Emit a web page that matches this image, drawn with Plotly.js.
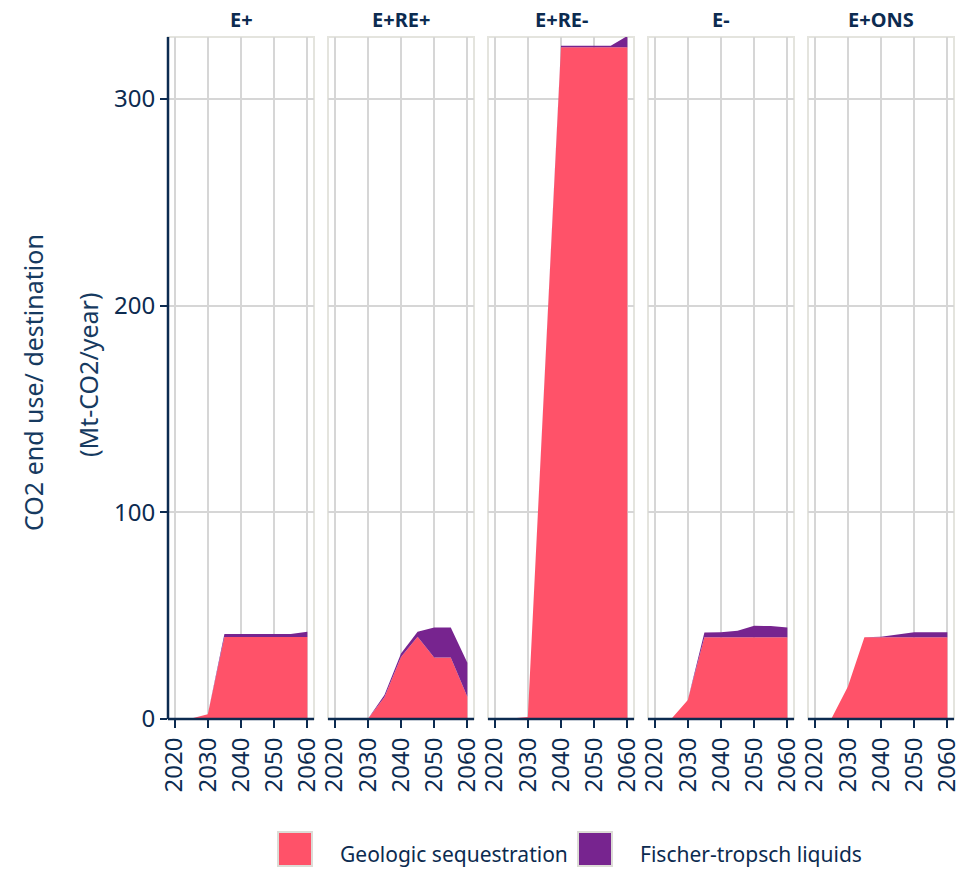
<!DOCTYPE html>
<html>
<head>
<meta charset="utf-8">
<script src="https://cdn.plot.ly/plotly-3.0.1.min.js"></script>
<style>html,body{margin:0;padding:0;background:#fff;}#chart{width:975px;height:880px;}</style>
</head>
<body>
<div id="chart"></div>
<script>
// ---- data ----
const years = [2020, 2025, 2030, 2035, 2040, 2045, 2050, 2055, 2060];
const scenarios = ['E+', 'E+RE+', 'E+RE-', 'E-', 'E+ONS'];
const seriesNames = ['Geologic sequestration', 'Fischer-tropsch liquids'];
const geologicEplus   = [0, 0.3, 2.3, 39.7, 39.7, 39.7, 39.7, 39.7, 39.7];
const fischerEplus    = [0, 0, 0, 1.4, 1.4, 1.4, 1.4, 1.4, 2.5];
const geologicEREplus = [0, 0, 0, 10.5, 30, 39.8, 29.7, 29.8, 10.8];
const fischerEREplus  = [0, 0, 0, 1.1, 1.7, 2.4, 14.6, 14.5, 16.4];
const geologicEREminus= [0, 0.3, 1, 162, 325, 325, 325, 325, 325];
const fischerEREminus = [0, 0, 0, 0, 0.8, 0.8, 0.8, 0.8, 5.5];
const geologicEminus  = [0, 0, 9.2, 39.5, 39.5, 39.5, 39.5, 39.5, 39.5];
const fischerEminus   = [0, 0, 0, 2.4, 2.5, 3.2, 5.6, 5.5, 4.8];
const geologicEONS    = [0, 0, 15.6, 39.5, 39.5, 39.5, 39.5, 39.5, 39.5];
const fischerEONS     = [0, 0, 0, 0, 0.3, 1.3, 2.5, 2.5, 2.5];
const xTicks = [2020, 2030, 2040, 2050, 2060];
const yTicks = [0, 100, 200, 300];

const geologic = [geologicEplus, geologicEREplus, geologicEREminus, geologicEminus, geologicEONS];
const fischer = [fischerEplus, fischerEREplus, fischerEREminus, fischerEminus, fischerEONS];

// ---- style ----
const W = 975, H = 880;
const colors = ['#FF5269', '#77248F'];
const navy = '#0c2b50';
const gridC = '#d6d6d6';
const borderC = '#e4e4de';
const font = 'Noto Sans, Open Sans, sans-serif';

const panelLeft0 = 168, panelStep = 160, panelW = 146;
const plotTop = 37, plotBottom = 719;
const yDom = [(H - plotBottom) / H, (H - plotTop) / H];

const traces = [];
const layout = {
  width: W, height: H,
  margin: {l: 0, r: 0, t: 0, b: 0},
  paper_bgcolor: '#ffffff', plot_bgcolor: '#ffffff',
  showlegend: false,
  font: {family: font, color: navy},
  shapes: [], annotations: []
};

scenarios.forEach((sc, i) => {
  const n = i === 0 ? '' : String(i + 1);
  const xa = 'x' + n, ya = 'y' + n;
  const left = panelLeft0 + i * panelStep;
  const xDom = [left / W, (left + panelW) / W];
  [geologic[i], fischer[i]].forEach((vals, k) => {
    traces.push({
      type: 'scatter', mode: 'lines', x: years, y: vals,
      xaxis: xa, yaxis: ya, stackgroup: 'g' + i,
      name: seriesNames[k], line: {width: 0, color: colors[k]},
      fillcolor: colors[k], hoverinfo: 'x+y+name'
    });
  });
  layout['xaxis' + n] = {
    domain: xDom, anchor: ya, range: [2018, 2062],
    tickmode: 'array', tickvals: xTicks, ticktext: xTicks.map(String),
    tickangle: -90, ticks: 'outside', ticklen: 8, tickwidth: 2, tickcolor: navy,
    tickfont: {family: font, size: 24, color: navy},
    showgrid: true, gridcolor: gridC, gridwidth: 2,
    showline: false, zeroline: false, fixedrange: true
  };
  layout['yaxis' + n] = {
    domain: yDom, anchor: xa, range: [0, 330],
    tickmode: 'array', tickvals: yTicks, ticktext: yTicks.map(String),
    showticklabels: i === 0, ticks: i === 0 ? 'outside' : '', ticklen: 7, tickwidth: 2, tickcolor: navy,
    tickfont: {family: font, size: 24, color: navy},
    showgrid: true, gridcolor: gridC, gridwidth: 2,
    showline: false, zeroline: false, fixedrange: true
  };
  // panel border
  layout.shapes.push({type: 'rect', xref: xa + ' domain', yref: ya + ' domain', x0: 0, x1: 1, y0: 0, y1: 1,
    line: {color: borderC, width: 2}, layer: 'below'});
  // bottom axis line
  layout.shapes.push({type: 'line', xref: xa + ' domain', yref: ya + ' domain', x0: 0, x1: 1, y0: 0, y1: 0,
    line: {color: navy, width: 2.5}, layer: 'above'});
  if (i === 0) {
    layout.shapes.push({type: 'line', xref: xa + ' domain', yref: ya + ' domain', x0: 0, x1: 0, y0: 0, y1: 1,
      line: {color: navy, width: 2.5}, layer: 'above'});
  }
  // panel title
  layout.annotations.push({text: '<b>' + sc + '</b>', xref: xa + ' domain', yref: 'paper', x: 0.5, y: (H - 20) / H,
    xanchor: 'center', yanchor: 'middle', showarrow: false, font: {family: font, size: 20, color: navy}});
});

// y title (two lines)
layout.annotations.push({text: 'CO2 end use/ destination', xref: 'paper', yref: 'paper', x: 33 / W, y: (H - 383) / H,
  textangle: -90, xanchor: 'center', yanchor: 'middle', showarrow: false, font: {family: font, size: 25, color: '#163a60'}});
layout.annotations.push({text: '(Mt-CO2/year)', xref: 'paper', yref: 'paper', x: 88 / W, y: (H - 375) / H,
  textangle: -90, xanchor: 'center', yanchor: 'middle', showarrow: false, font: {family: font, size: 25, color: '#163a60'}});

// legend (manual)
const legendItems = [{x: 278, tx: 338}, {x: 578, tx: 638}];
legendItems.forEach((it, k) => {
  layout.shapes.push({type: 'rect', xref: 'paper', yref: 'paper',
    x0: it.x / W, x1: (it.x + 34) / W, y0: (H - 866) / H, y1: (H - 832) / H,
    fillcolor: colors[k], line: {color: '#dcdcd6', width: 2}});
  layout.annotations.push({text: seriesNames[k], xref: 'paper', yref: 'paper', x: it.tx / W, y: (H - 854) / H,
    xanchor: 'left', yanchor: 'middle', showarrow: false, font: {family: font, size: 21, color: navy}});
});

Plotly.newPlot('chart', traces, layout, {staticPlot: true, displayModeBar: false});
</script>
</body>
</html>
